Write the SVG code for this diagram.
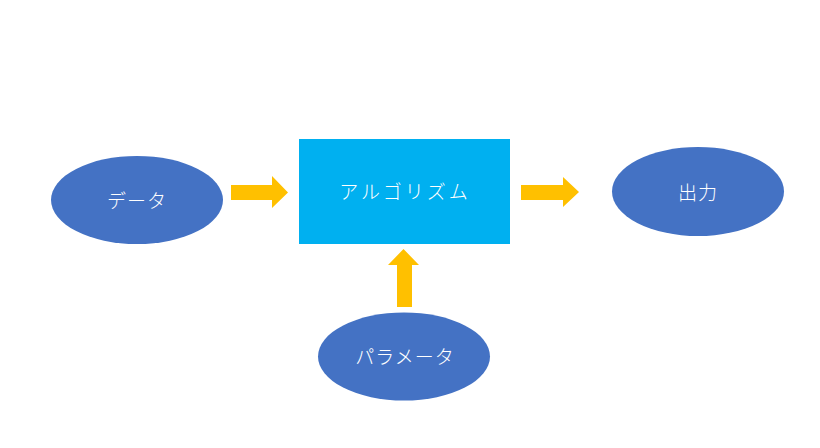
<svg xmlns="http://www.w3.org/2000/svg" width="820" height="448" viewBox="0 0 820 448">
<style>
.ell{fill:#4472C4}
.arr{fill:#FFC000}
.box{fill:#00B0F0}
text{font-family:"Noto Sans CJK JP","Noto Sans",sans-serif;font-size:19px;font-weight:300;fill:#FFFFFF;text-anchor:middle;dominant-baseline:central;letter-spacing:1px}
</style>
<rect width="820" height="448" fill="#FFFFFF"/>
<g id="connectors">
<polygon class="arr" points="231,185 272,185 272,176 288,192.5 272,208 272,200 231,200"/>
<polygon class="arr" points="521,185 563,185 563,177 579,192 563,207 563,200 521,200"/>
<polygon class="arr" points="397,307 397,265 388,265 403.5,249 419,265 412,265 412,307"/>
</g>
<g id="data">
<ellipse class="ell" cx="137" cy="200" rx="86" ry="44"/>
<text x="137" y="199">データ</text>
</g>
<g id="algorithm">
<rect class="box" x="299" y="139" width="211" height="105"/>
<text x="405" y="190" style="letter-spacing:3px">アルゴリズム</text>
</g>
<g id="output">
<ellipse class="ell" cx="698" cy="191.5" rx="86" ry="44.5"/>
<text x="698" y="191">出力</text>
</g>
<g id="parameter">
<ellipse class="ell" cx="404" cy="356.5" rx="86" ry="44"/>
<text x="405" y="355">パラメータ</text>
</g>
</svg>
